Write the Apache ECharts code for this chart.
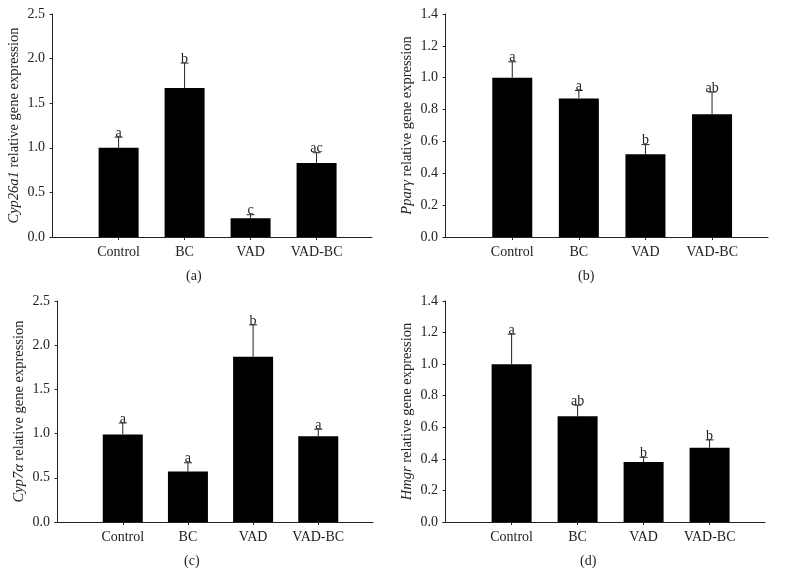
<!DOCTYPE html>
<html>
<head>
<meta charset="utf-8">
<script src="https://cdn.jsdelivr.net/npm/echarts@6/dist/echarts.min.js"></script>
<style>
html,body{margin:0;padding:0;background:#fff;}
#chart{width:786px;height:575px;}
</style>
</head>
<body>
<div id="chart"></div>
<script>
const categories = ['Control', 'BC', 'VAD', 'VAD-BC'];

const cyp26a1Mean = [1.00, 1.67, 0.21, 0.83];
const cyp26a1Err = [0.12, 0.28, 0.04, 0.115];
const cyp26a1Letters = ['a', 'b', 'c', 'ac'];

const ppargMean = [1.00, 0.87, 0.52, 0.77];
const ppargErr = [0.10, 0.05, 0.06, 0.14];
const ppargLetters = ['a', 'a', 'b', 'ab'];

const cyp7aMean = [0.99, 0.57, 1.87, 0.97];
const cyp7aErr = [0.13, 0.10, 0.36, 0.08];
const cyp7aLetters = ['a', 'a', 'b', 'a'];

const hmgrMean = [1.00, 0.67, 0.38, 0.47];
const hmgrErr = [0.19, 0.07, 0.03, 0.05];
const hmgrLetters = ['a', 'ab', 'b', 'b'];

const yTicksA = [0.0, 0.5, 1.0, 1.5, 2.0, 2.5];
const yTicksB = [0.0, 0.2, 0.4, 0.6, 0.8, 1.0, 1.2, 1.4];

const FONT = '"Liberation Serif", "DejaVu Serif", serif';
const AXIS_COLOR = '#222';

const panels = [
  {grid: {left: 50, top: 14, width: 322, height: 223}, mean: cyp26a1Mean, err: cyp26a1Err, letters: cyp26a1Letters, ticks: yTicksA, gene: 'Cyp26a1', tag: '(a)', tagPos: [195, 277]},
  {grid: {left: 443, top: 14, width: 325, height: 223}, mean: ppargMean, err: ppargErr, letters: ppargLetters, ticks: yTicksB, gene: 'Pparγ', tag: '(b)', tagPos: [587, 277]},
  {grid: {left: 55, top: 301, width: 318, height: 221}, mean: cyp7aMean, err: cyp7aErr, letters: cyp7aLetters, ticks: yTicksA, gene: 'Cyp7α', tag: '(c)', tagPos: [193, 562]},
  {grid: {left: 443, top: 301, width: 322, height: 221}, mean: hmgrMean, err: hmgrErr, letters: hmgrLetters, ticks: yTicksB, gene: 'Hmgr', tag: '(d)', tagPos: [589, 562]}
];

const positions = categories.map((c, i) => i + 1);

const option = {
  backgroundColor: '#fff',
  animation: false,
  grid: [],
  xAxis: [],
  yAxis: [],
  series: [],
  graphic: []
};

panels.forEach((p, k) => {
  option.grid.push(p.grid);
  option.xAxis.push({
    type: 'value',
    gridIndex: k,
    min: -0.04,
    max: 4.84,
    axisLine: {show: true, onZero: false, lineStyle: {color: AXIS_COLOR, width: 1}},
    axisTick: {show: true, length: 3, inside: false, customValues: positions, lineStyle: {color: AXIS_COLOR}},
    axisLabel: {
      customValues: positions,
      margin: 8,
      color: AXIS_COLOR,
      fontFamily: FONT,
      fontSize: 14,
      formatter: v => categories[Math.round(v) - 1] || ''
    },
    splitLine: {show: false}
  });
  const interval = p.ticks[1] - p.ticks[0];
  option.yAxis.push({
    type: 'value',
    gridIndex: k,
    min: p.ticks[0],
    max: p.ticks[p.ticks.length - 1],
    interval: interval,
    axisLine: {show: true, lineStyle: {color: AXIS_COLOR, width: 1}},
    axisTick: {show: true, length: 3, lineStyle: {color: AXIS_COLOR}},
    axisLabel: {
      margin: 5,
      color: AXIS_COLOR,
      fontFamily: FONT,
      fontSize: 14,
      formatter: v => v.toFixed(1)
    },
    splitLine: {show: false},
    name: '{i|' + p.gene + '} relative gene expression',
    nameLocation: 'middle',
    nameGap: 28,
    nameRotate: 90,
    nameTextStyle: {
      color: AXIS_COLOR,
      fontFamily: FONT,
      fontSize: 14.5,
      rich: {i: {fontStyle: 'italic', fontFamily: FONT, fontSize: 14.5, color: AXIS_COLOR}}
    }
  });
  option.series.push({
    type: 'bar',
    xAxisIndex: k,
    yAxisIndex: k,
    barWidth: 40,
    itemStyle: {color: '#000'},
    data: p.mean.map((v, i) => [positions[i], v]),
    z: 2
  });
  const letters = p.letters;
  option.series.push({
    type: 'custom',
    xAxisIndex: k,
    yAxisIndex: k,
    z: 3,
    data: p.mean.map((v, i) => [positions[i], v, v + p.err[i], i]),
    renderItem: function (params, api) {
      const x = api.value(0);
      const p0 = api.coord([x, api.value(1)]);
      const p1 = api.coord([x, api.value(2)]);
      const idx = api.value(3);
      return {
        type: 'group',
        children: [
          {type: 'line', shape: {x1: p0[0], y1: p0[1], x2: p1[0], y2: p1[1]}, style: {stroke: '#222', lineWidth: 1}},
          {type: 'line', shape: {x1: p1[0] - 4, y1: p1[1], x2: p1[0] + 4, y2: p1[1]}, style: {stroke: '#222', lineWidth: 1}},
          {type: 'text', x: p1[0], y: p1[1] + 3, style: {text: letters[idx], textAlign: 'center', textVerticalAlign: 'bottom', fill: '#222', font: '14px ' + FONT}}
        ]
      };
    }
  });
  option.graphic.push({
    type: 'text',
    left: p.tagPos[0] - 9,
    top: p.tagPos[1] - 8,
    style: {text: p.tag, fill: AXIS_COLOR, font: '14px ' + FONT}
  });
});

const chart = echarts.init(document.getElementById('chart'), null, {renderer: 'canvas'});
chart.setOption(option);
</script>
</body>
</html>
